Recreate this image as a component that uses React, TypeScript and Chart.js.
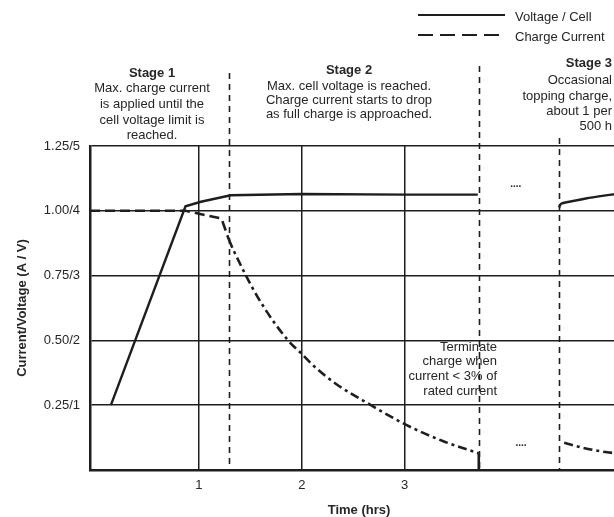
import React, { useEffect, useRef } from "react";
import { Chart, registerables } from "chart.js";

Chart.register(...registerables);

// ---- tick labels ----
const yTickValues = [0, 0.25, 0.5, 0.75, 1.0, 1.25];
const yTickLabels = ["", "0.25/1", "0.50/2", "0.75/3", "1.00/4", "1.25/5"];
const xTickValues = [1, 2, 3];
const xTickLabels = ["1", "2", "3"];

// ---- Voltage / Cell (V); plotted as V/4 on the shared A/V axis ----
const voltageMainTime = [0.145, 0.87, 1.02, 1.31, 2.0, 3.0, 3.71];
const voltageMain = [1.0, 4.07, 4.14, 4.24, 4.26, 4.25, 4.25];
const voltageTopTime = [4.5, 4.52, 4.6, 4.76, 4.92, 5.06, 5.17];
const voltageTop = [4.05, 4.11, 4.14, 4.19, 4.23, 4.26, 4.28];

// ---- Charge Current (A) ----
// constant-current part and knee
const currentKneeTime = [-0.058, 0.87, 1.22, 1.29];
const currentKnee = [1.0, 1.0, 0.97, 0.89];
// taper during stage 2
const currentTaperTime = [1.29, 1.34, 1.57, 1.86, 2.01, 2.12, 2.33, 2.66, 3.02, 3.37, 3.72];
const currentTaper = [0.89, 0.845, 0.668, 0.503, 0.444, 0.4, 0.333, 0.253, 0.173, 0.112, 0.064];
// termination
const currentStopTime = [3.72, 3.72];
const currentStop = [0.064, 0];
// stage 3 topping charge
const currentTopTime = [4.55, 4.73, 4.89, 5.06, 5.17];
const currentTop = [0.105, 0.086, 0.073, 0.064, 0.06];

// ---- stage dividers (hrs) ----
const dividerTimes = [1.29, 3.72, 4.5];

const INK = "#1e1e1e";
const TEXT = "#262626";
const FONT = "'Liberation Sans', Arial, sans-serif";

const annotPlugin = {
  id: "annot",
  beforeDraw(chart: any) {
    const { ctx, width, height } = chart;
    ctx.save();
    ctx.fillStyle = "#ffffff";
    ctx.fillRect(0, 0, width, height);
    ctx.restore();
  },
  afterDraw(chart: any) {
    const { ctx, chartArea, scales } = chart;
    const xs = scales.x;
    ctx.save();

    // stage dividers
    const tops = [73, 66, 138];
    ctx.strokeStyle = INK;
    ctx.lineWidth = 1.6;
    ctx.setLineDash([6, 5]);
    dividerTimes.forEach((t, i) => {
      const px = Math.round(xs.getPixelForValue(t)) + 0.5;
      ctx.beginPath();
      ctx.moveTo(px, tops[i]);
      ctx.lineTo(px, chartArea.bottom);
      ctx.stroke();
    });

    // legend
    ctx.setLineDash([]);
    ctx.lineWidth = 2.2;
    ctx.beginPath();
    ctx.moveTo(418, 15);
    ctx.lineTo(505, 15);
    ctx.stroke();
    ctx.setLineDash([15, 7]);
    ctx.beginPath();
    ctx.moveTo(418, 35);
    ctx.lineTo(505, 35);
    ctx.stroke();
    ctx.setLineDash([]);

    ctx.fillStyle = TEXT;
    ctx.textBaseline = "middle";
    const normal = `13px ${FONT}`;
    const bold = `bold 13px ${FONT}`;
    ctx.font = normal;
    ctx.textAlign = "left";
    ctx.fillText("Voltage / Cell", 515, 17);
    ctx.fillText("Charge Current", 515, 37);

    const block = (lines: string[], ys: number[], x: number, align: CanvasTextAlign) => {
      ctx.textAlign = align;
      lines.forEach((s, i) => {
        ctx.font = i === 0 ? bold : normal;
        ctx.fillText(s, x, ys[i]);
      });
    };
    block(
      ["Stage 1", "Max. charge current", "is applied until the", "cell voltage limit is", "reached."],
      [73, 88, 104, 120, 135],
      152,
      "center"
    );
    block(
      ["Stage 2", "Max. cell voltage is reached.", "Charge current starts to drop", "as full charge is approached."],
      [70, 86, 100, 114],
      349,
      "center"
    );
    block(
      ["Stage 3", "Occasional", "topping charge,", "about 1 per", "500 h"],
      [63, 80, 96, 111, 126],
      612,
      "right"
    );
    ctx.font = normal;
    ctx.textAlign = "right";
    ["Terminate", "charge when", "current < 3% of", "rated current"].forEach((s, i) => {
      ctx.fillText(s, 497, [347, 361, 376, 391][i]);
    });

    // ellipses in the gap
    ctx.font = `bold 10px ${FONT}`;
    ctx.textAlign = "center";
    ctx.fillText("....", xs.getPixelForValue(4.08), 184);
    ctx.fillText("....", xs.getPixelForValue(4.13), 443);

    // axis titles
    ctx.font = bold;
    ctx.fillText("Time (hrs)", (chartArea.left + chartArea.right) / 2, 510);
    ctx.translate(22, (chartArea.top + chartArea.bottom) / 2);
    ctx.rotate(-Math.PI / 2);
    ctx.fillText("Current/Voltage (A / V)", 0, 0);
    ctx.restore();
  },
};

export default function App() {
  const ref = useRef<HTMLCanvasElement | null>(null);

  useEffect(() => {
    if (!ref.current) return;
    const pts = (ts: number[], vs: number[], f = (v: number) => v) =>
      ts.map((t, i) => ({ x: t, y: f(vs[i]) }));
    const dash = [9, 4, 3, 4];
    const base = { borderColor: INK, pointRadius: 0 };

    const chart = new Chart(ref.current, {
      type: "line",
      data: {
        datasets: [
          {
            ...base,
            label: "Voltage / Cell",
            data: pts(voltageMainTime, voltageMain, (v) => v / 4),
            borderWidth: 2.4,
            tension: 0,
          },
          {
            ...base,
            label: "Voltage / Cell (stage 3)",
            data: pts(voltageTopTime, voltageTop, (v) => v / 4),
            borderWidth: 2.4,
            tension: 0.2,
          },
          {
            ...base,
            label: "Charge Current",
            data: pts(currentKneeTime, currentKnee),
            borderWidth: 2.6,
            borderDash: [10, 5],
            tension: 0,
          },
          {
            ...base,
            label: "Charge Current (taper)",
            data: pts(currentTaperTime, currentTaper),
            borderWidth: 2.6,
            borderDash: dash,
            cubicInterpolationMode: "monotone",
          },
          {
            ...base,
            label: "Charge Current (stop)",
            data: pts(currentStopTime, currentStop),
            borderWidth: 2.6,
            tension: 0,
          },
          {
            ...base,
            label: "Charge Current (stage 3)",
            data: pts(currentTopTime, currentTop),
            borderWidth: 2.6,
            borderDash: dash,
            cubicInterpolationMode: "monotone",
          },
        ],
      },
      options: {
        animation: false,
        responsive: false,
        devicePixelRatio: 1,
        layout: { padding: { top: 146, right: 4, left: 0, bottom: 0 } },
        plugins: { legend: { display: false }, tooltip: { enabled: false } },
        scales: {
          x: {
            type: "linear",
            min: -0.058,
            max: 5.17,
            afterBuildTicks: (s: any) => {
              s.ticks = xTickValues.map((v) => ({ value: v }));
            },
            afterFit: (s: any) => {
              s.height = 47;
            },
            ticks: {
              autoSkip: false,
              padding: 8,
              color: TEXT,
              font: { family: FONT, size: 13 },
              callback: (_v: any, i: number) => xTickLabels[i],
            },
            grid: { color: INK, lineWidth: 1.5, drawTicks: false },
            border: { color: INK, width: 2.5 },
          },
          y: {
            type: "linear",
            min: 0,
            max: 1.25,
            afterBuildTicks: (s: any) => {
              s.ticks = yTickValues.map((v) => ({ value: v }));
            },
            afterFit: (s: any) => {
              s.width = 90;
            },
            ticks: {
              autoSkip: false,
              padding: 10,
              color: TEXT,
              font: { family: FONT, size: 13 },
              callback: (_v: any, i: number) => yTickLabels[i],
            },
            grid: { color: INK, lineWidth: 1.5, drawTicks: false },
            border: { color: INK, width: 2.5 },
          },
        },
      },
      plugins: [annotPlugin],
    } as any);

    return () => chart.destroy();
  }, []);

  return (
    <div
      style={{
        position: "fixed",
        left: 0,
        top: 0,
        width: 614,
        height: 517,
        overflow: "hidden",
        background: "#fff",
      }}
    >
      <canvas ref={ref} width={632} height={517} style={{ display: "block" }} />
    </div>
  );
}
